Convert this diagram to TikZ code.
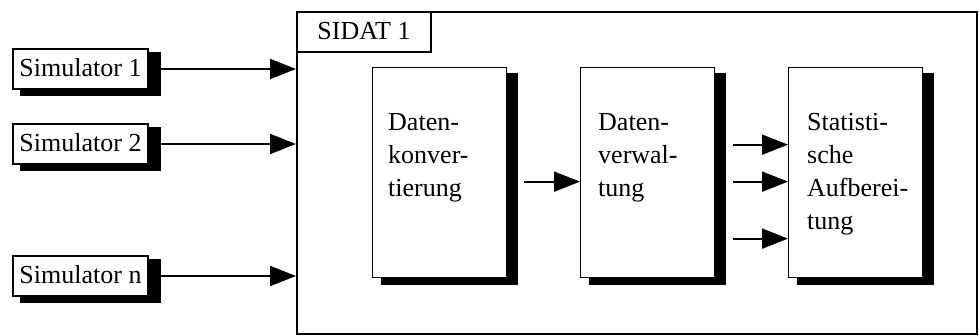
\documentclass[tikz,border=0pt]{standalone}
\usepackage{fontspec}
\setmainfont{Liberation Serif}
\usetikzlibrary{arrows.meta,backgrounds}

\tikzset{
  lbl/.style={font=\fontsize{26}{33}\selectfont},
  simbox/.style={draw, line width=1.3pt, fill=white, minimum width=135, minimum height=40,
    inner sep=0pt, text height=17, text depth=1, lbl},
  blockbox/.style={draw, line width=1.3pt, fill=white, minimum width=134, minimum height=210,
    anchor=north west, inner sep=0pt},
  blocktext/.style={lbl, align=left, anchor=north west, inner sep=0pt},
  frame/.style={draw, line width=2pt, anchor=north west, inner sep=0pt},
  arr/.style={line width=2pt, -{Triangle[length=26pt,width=20pt]}},
}

\begin{document}
\begin{tikzpicture}[x=1pt,y=-1pt]
  \useasboundingbox (0,0) rectangle (979,336);

  % SIDAT frame and its title tab
  \node[frame, minimum width=680, minimum height=322] (sidat) at (296,11) {};
  \node[frame, minimum width=134, minimum height=40, lbl, text height=17, text depth=1] (tab) at (296,11) {SIDAT 1};

  % data sources
  \node[simbox] (s1) at (80.5,69) {Simulator 1};
  \node[simbox] (s2) at (80.5,144) {Simulator 2};
  \node[simbox] (sn) at (80.5,276) {Simulator n};

  % processing stages
  \node[blockbox] (b1) at (372,67) {};
  \node[blockbox] (b2) at (580,67) {};
  \node[blockbox] (b3) at (788,67) {};

  \node[blocktext] (t1) at ([shift={(16,46)}]b1.north west) {Daten-\\konver-\\tierung};
  \node[blocktext] (t2) at ([shift={(18,46)}]b2.north west) {Daten-\\verwal-\\tung};
  \node[blocktext] (t3) at ([shift={(19,46)}]b3.north west) {Statisti-\\sche\\Aufberei-\\tung};

  % drop shadows
  \begin{scope}[on background layer]
    \foreach \n in {s1,s2,sn}
      \fill ([shift={(8,4)}]\n.north west) rectangle ([shift={(12,6)}]\n.south east);
    \foreach \n in {b1,b2,b3}
      \fill ([shift={(9,6)}]\n.north west) rectangle ([shift={(11,7)}]\n.south east);
  \end{scope}

  % connectors
  \foreach \n in {s1,s2,sn}
    \draw[arr] ([xshift=12]\n.east) -- (sidat.west |- \n.east);
  \draw[arr] ([shift={(17,9)}]b1.east) -- ([shift={(0,9)}]b2.west);
  \foreach \dy in {-28,9,66}
    \draw[arr] ([shift={(18,\dy)}]b2.east) -- ([shift={(0,\dy)}]b3.west);
\end{tikzpicture}
\end{document}
